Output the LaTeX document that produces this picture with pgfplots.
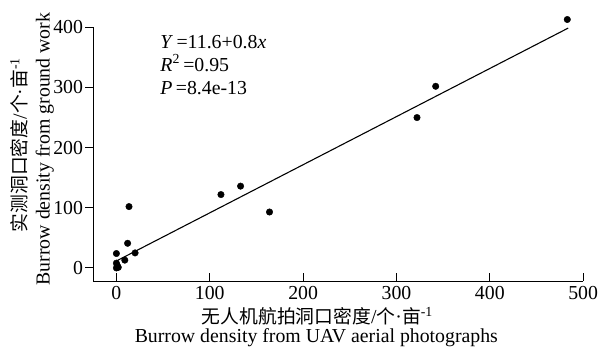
\documentclass[border=0pt]{standalone}
\usepackage{fontspec}
\setmainfont{Liberation Serif}
\newfontfamily\cjk{Noto Sans CJK SC}[Scale=0.95]
\usepackage{pgfplots}
\pgfplotsset{compat=1.18}
\begin{document}
\fontsize{20bp}{24bp}\selectfont
\begin{tikzpicture}
\begin{axis}[
  scale only axis, width=495bp, height=257bp,
  xmin=-25, xmax=500, ymin=-22, ymax=401,
  axis x line*=bottom, axis y line*=left,
  axis line style={-, line width=1bp},
  xtick={0,100,...,500}, ytick={0,100,...,400},
  xtick align=inside, ytick align=outside,
  major tick length=8bp,
  tick style={line width=1bp, black},
  /pgf/number format/assume math mode=true,
  ticklabel style={font=\fontsize{20bp}{24bp}\selectfont},
  xticklabel style={inner sep=2bp, yshift=-3bp},
  yticklabel style={inner sep=2bp},
  clip=false,
]
\addplot[only marks, mark=*, mark size=3.3bp, black] coordinates {
  (483,413) (342,302) (322,250) (112,122) (133,136) (164,93)
  (13.5,102) (12,41) (20,25) (9,13) (0,24) (0,8) (0,0) (1,4) (2,1)
};
\addplot[black, line width=1.1bp] coordinates {(0,11.6) (484,398.8)};
\node[anchor=base west, inner sep=0pt] at (axis cs:47,365) {\textit{Y}\,=11.6+0.8\textit{x}};
\node[anchor=base west, inner sep=0pt] at (axis cs:47,327) {\textit{R}\textsuperscript{2}\,=0.95};
\node[anchor=base west, inner sep=0pt] at (axis cs:47,288) {\textit{P}\,=8.4e-13};
% x axis title (two lines)
\node[anchor=base, inner sep=0pt] at ([xshift=-21bp, yshift=-43bp]rel axis cs:0.5,0) {{\cjk 无人机航拍洞口密度}/{\cjk 个}·{\cjk 亩}\textsuperscript{-1}};
\node[anchor=base, inner sep=0pt] at ([xshift=-22bp, yshift=-62bp]rel axis cs:0.5,0) {Burrow density from UAV aerial photographs};
% y axis title (two lines)
\node[anchor=base, inner sep=0pt, rotate=90] at ([xshift=-67bp, yshift=9bp]rel axis cs:0,0.5) {{\cjk 实测洞口密度}/{\cjk 个}·{\cjk 亩}\textsuperscript{-1}};
\node[anchor=base, inner sep=0pt, rotate=90] at ([xshift=-44bp, yshift=5bp]rel axis cs:0,0.5) {Burrow density from ground work};
\path (rel axis cs:0,0) ++(-94bp,-73bp) -- ++(0bp,0bp);
\path (rel axis cs:1,1) ++(15bp,27bp) -- ++(0bp,0bp);
\end{axis}
\end{tikzpicture}
\end{document}
